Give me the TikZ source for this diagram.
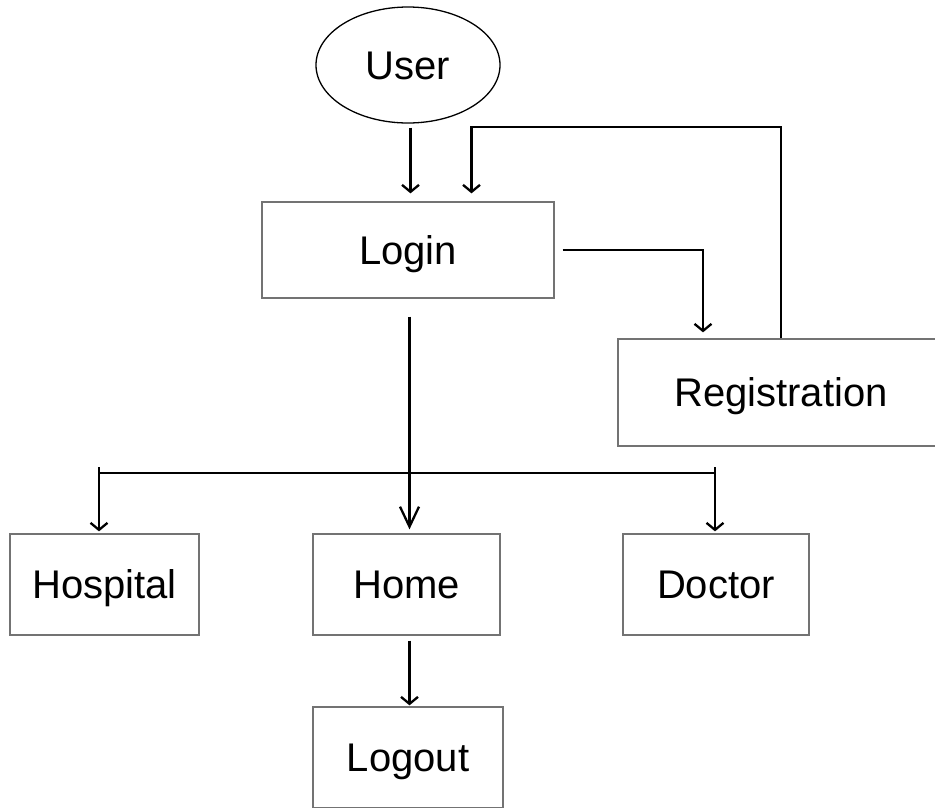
\documentclass[tikz,border=0pt]{standalone}
\usepackage{fontspec}
\setmainfont{Liberation Sans}
\usetikzlibrary{shapes.geometric,arrows.meta,calc}
\tikzset{
  box/.style={draw=black!55, line width=1.3pt, rectangle, inner sep=0pt,
    font=\fontsize{40}{42}\selectfont, text height=28.5pt, text depth=0pt},
  oval/.style={draw=black, line width=1.3pt, ellipse, inner sep=0pt,
    font=\fontsize{40}{42}\selectfont, text height=28.5pt, text depth=0pt,
    minimum width=184pt, minimum height=116pt},
  conn/.style={draw=black, line width=2.4pt},
  arr/.style={conn, -{Straight Barb[length=7pt,width=17pt,line width=2.3pt]}},
  bigarr/.style={conn, -{Straight Barb[length=20pt,width=19pt,line width=2.3pt]}}
}
\begin{document}
\begin{tikzpicture}[x=1pt,y=-1pt]
\useasboundingbox (0,0) rectangle (935,807);
\clip (0,0) rectangle (935,807);
\fill[white] (0,0) rectangle (935,807);

\node[oval] (User) at (408,65) {User};
\node[box, minimum width=292pt, minimum height=96pt] (Login) at (408,250) {Login};
\node[box, minimum width=326pt, minimum height=107pt] (Reg) at (781,392.5) {Registration};
\node[box, minimum width=189pt, minimum height=101pt] (Hospital) at (104.5,584.5) {Hospital};
\node[box, minimum width=187pt, minimum height=101pt] (Home) at (406.5,584.5) {Home};
\node[box, minimum width=186pt, minimum height=101pt] (Doctor) at (716,584.5) {Doctor};
\node[box, minimum width=190pt, minimum height=101pt] (Logout) at (408,757.5) {Logout};

% User -> Login
\draw[arr, shorten <=4pt, shorten >=8pt] ([xshift=2.5pt]User.south) -- ([xshift=2.5pt]Login.north);
% Registration -> Login (loop)
\coordinate (loopTop) at (471.5,127);
\draw[arr, shorten >=8pt] (Reg.north) |- (loopTop) -- (loopTop |- Login.north);
% Login -> Registration
\draw[arr, shorten <=8pt, shorten >=6pt] (Login.east) -| ([xshift=-78pt]Reg.north);
% Login -> Home
\draw[bigarr, shorten <=18pt, shorten >=4pt] ([xshift=1.5pt]Login.south) -- ([xshift=1.5pt]Login.south |- Home.north);
% branch
\coordinate (bl) at (99,467);
\coordinate (br) at (715,467);
\draw[conn] ($(bl)+(0,6)$) -- ($(br)+(0,6)$);
\draw[arr, shorten >=2pt] (bl) -- (bl |- Hospital.north);
\draw[arr, shorten >=2pt] (br) -- (br |- Doctor.north);
% Home -> Logout
\draw[arr, shorten <=5pt, shorten >=1pt] ([xshift=3pt]Home.south) -- ([xshift=3pt]Home.south |- Logout.north);
\end{tikzpicture}
\end{document}
